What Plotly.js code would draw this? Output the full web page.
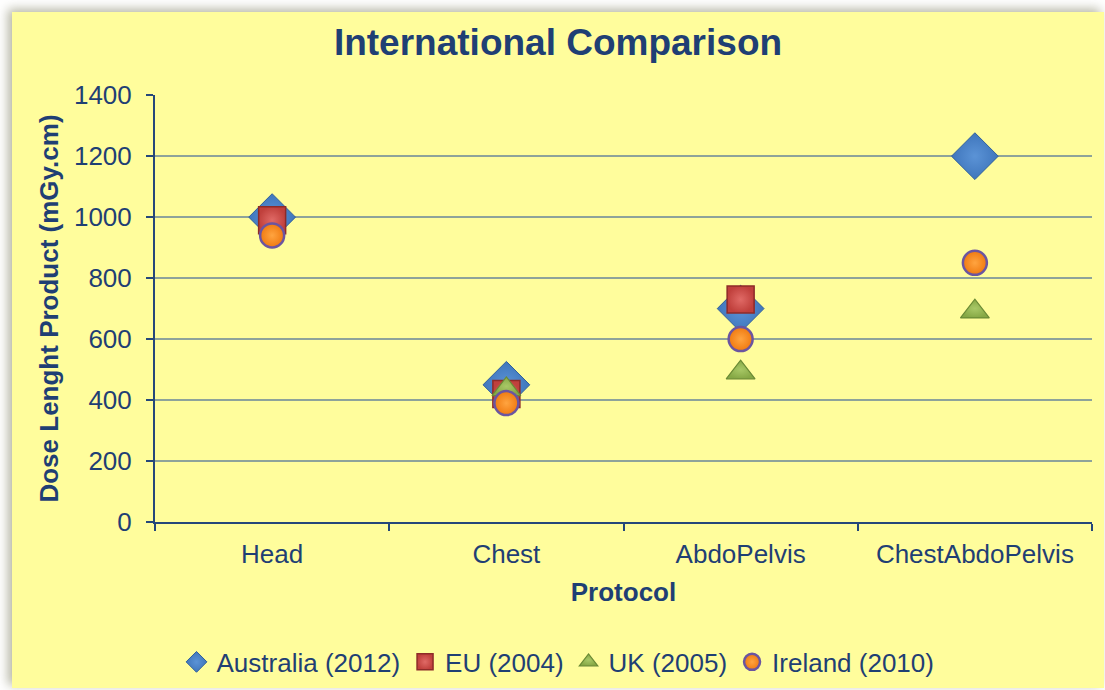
<!DOCTYPE html>
<html>
<head>
<meta charset="utf-8">
<script src="https://cdn.plot.ly/plotly-3.0.1.min.js"></script>
<style>
  html, body { margin: 0; padding: 0; background: #ffffff; width: 1105px; height: 690px; overflow: hidden; }
  #wrap { position: absolute; left: 12px; top: 12px; width: 1092px; height: 676px;
          box-shadow: -4px -3px 10px rgba(120,120,90,0.55); background: #FFFD9C; }
  #chart { width: 1092px; height: 676px; }
</style>
</head>
<body>
<div id="wrap"><div id="chart"></div></div>
<script>
const categories = ["Head", "Chest", "AbdoPelvis", "ChestAbdoPelvis"];
const seriesNames = ["Australia (2012)", "EU (2004)", "UK (2005)", "Ireland (2010)"];
const australia = [1000, 450, 700, 1200];
const eu = [990, 420, 730, null];
const uk = [null, 435, 490, 690];
const ireland = [940, 390, 600, 850];
const yTicks = [0, 200, 400, 600, 800, 1000, 1200, 1400];

const textColor = "#1F3F74";
const bg = "#FFFD9C";

function tr(name, y, symbol, size, color, lineColor, lineWidth, grad) {
  const m = { symbol: symbol, size: size, color: color,
              line: { color: lineColor, width: lineWidth } };
  if (grad) m.gradient = grad;
  return { type: "scatter", mode: "markers", name: name, x: categories, y: y,
           marker: m, cliponaxis: false, hoverinfo: "x+y+name" };
}

const data = [
  tr(seriesNames[0], australia, "diamond", 36, "#3F76BC", "#2F5F9C", 1,
     { type: "radial", color: "#5B93D6" }),
  tr(seriesNames[1], eu, "square", 27, "#C0403C", "#8E2B28", 1.5,
     { type: "radial", color: "#E06A66" }),
  tr(seriesNames[2], uk, "triangle-up", 25, "#86A845", "#6A8A35", 1.2,
     { type: "radial", color: "#A8C866" }),
  tr(seriesNames[3], ireland, "circle", 24, "#F07A10", "#6B55A0", 2.5,
     { type: "radial", color: "#FFA440" })
];

const layout = {
  width: 1092, height: 676,
  paper_bgcolor: bg, plot_bgcolor: bg,
  margin: { l: 143, r: 12, t: 83, b: 166, autoexpand: false },
  font: { family: "Liberation Sans, Arial, sans-serif", color: textColor, size: 26 },
  title: { text: "<b>International Comparison</b>", x: 0.5, xanchor: "center",
           y: 0.955, yanchor: "middle", font: { size: 37, color: "#1F3F74" } },
  showlegend: true,
  legend: { orientation: "h", xref: "container", yref: "container",
            x: 0.5, xanchor: "center", y: 0.0385, yanchor: "middle",
            font: { size: 26, color: textColor }, itemwidth: 30, bgcolor: "rgba(0,0,0,0)",
            traceorder: "normal" },
  xaxis: {
    type: "category", categoryorder: "array", categoryarray: categories,
    range: [-0.5, 3.5], showgrid: false, zeroline: false, automargin: false,
    showline: true, linecolor: "#25477A", linewidth: 2,
    ticks: "outside", tickson: "boundaries", ticklen: 7, tickcolor: "#25477A", tickwidth: 2,
    ticklabelstandoff: 8,
    tickfont: { size: 26, color: textColor },
    title: { text: "<b>Protocol</b>", font: { size: 26, color: textColor }, standoff: 15 },
    fixedrange: true
  },
  yaxis: {
    range: [0, 1400.6], tickvals: yTicks, ticktext: yTicks.map(String),
    showgrid: true, gridcolor: "#8EA39A", gridwidth: 2, zeroline: false, automargin: false,
    showline: true, linecolor: "#25477A", linewidth: 2,
    ticks: "outside", ticklen: 7, tickcolor: "#25477A", tickwidth: 2,
    ticklabelstandoff: 9,
    tickfont: { size: 26, color: textColor },
    title: { text: "<b>Dose Lenght Product (mGy.cm)</b>", font: { size: 26, color: textColor }, standoff: 8 },
    fixedrange: true
  },
  hovermode: "closest"
};

Plotly.newPlot("chart", data, layout, { displayModeBar: false, staticPlot: false });
</script>
</body>
</html>
